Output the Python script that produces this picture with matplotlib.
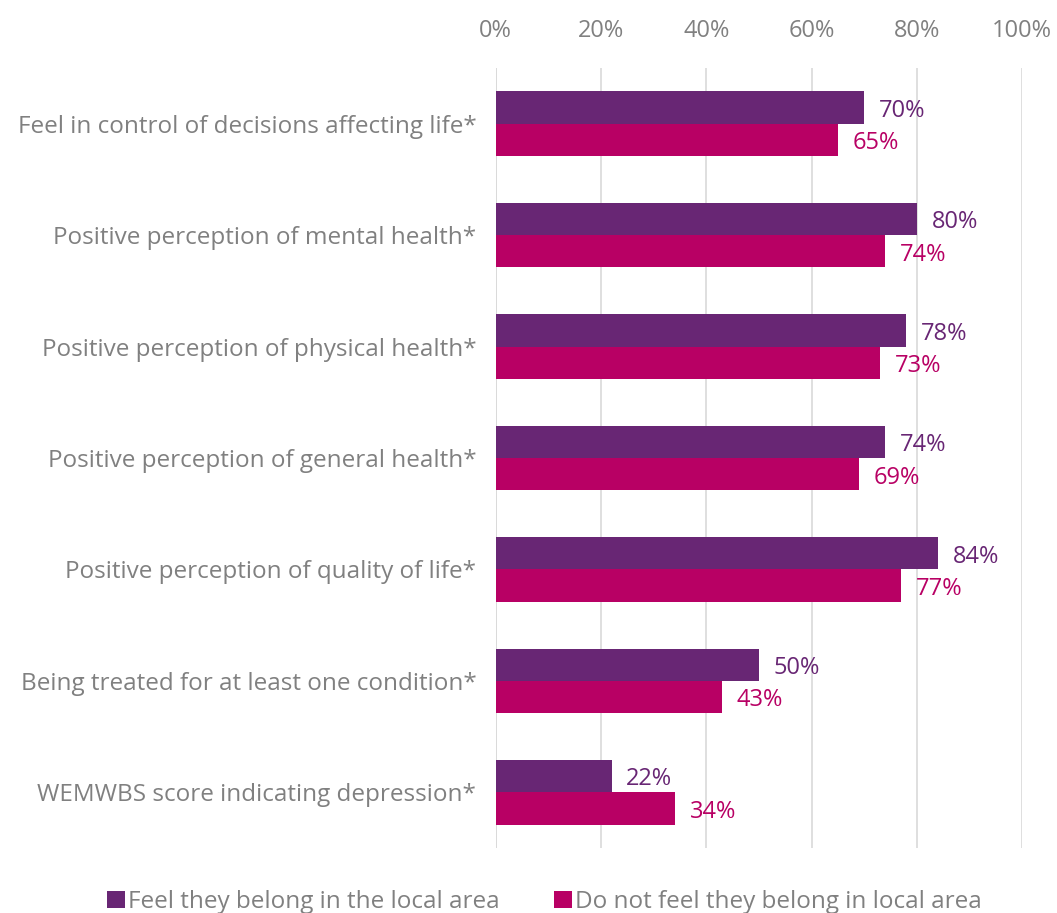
import matplotlib.pyplot as plt
import numpy as np

categories = [
    "Feel in control of decisions affecting life*",
    "Positive perception of mental health*",
    "Positive perception of physical health*",
    "Positive perception of general health*",
    "Positive perception of quality of life*",
    "Being treated for at least one condition*",
    "WEMWBS score indicating depression*",
]
belong = [70, 80, 78, 74, 84, 50, 22]
not_belong = [65, 74, 73, 69, 77, 43, 34]
series_names = ["Feel they belong in the local area", "Do not feel they belong in local area"]
colors = ["#682674", "#B80064"]
grey = "#808080"

plt.rcParams['font.family'] = ['Open Sans', 'DejaVu Sans']

fig = plt.figure(figsize=(10.57, 9.13), dpi=100)
ax = fig.add_axes([0.469, 0.0712, 0.498, 0.8543])

y = np.arange(len(categories))
h = 0.29
b1 = ax.barh(y - h / 2, belong, height=h, color=colors[0], label=series_names[0])
b2 = ax.barh(y + h / 2, not_belong, height=h, color=colors[1], label=series_names[1])

for bars, vals, c in [(b1, belong, colors[0]), (b2, not_belong, colors[1])]:
    for bar, v in zip(bars, vals):
        ax.text(v + 2.8, bar.get_y() + bar.get_height() / 2 + 0.03, f"{v}%",
                color=c, fontsize=17, va="center", ha="left")

ax.set_xlim(0, 100)
ax.set_ylim(len(categories) - 0.5, -0.5)
ax.set_xticks(range(0, 101, 20))
ax.set_xticklabels([f"{t}%" for t in range(0, 101, 20)])
ax.xaxis.tick_top()
ax.tick_params(axis="x", length=0, labelsize=17, colors=grey, pad=18)
ax.set_yticks(y)
ax.set_yticklabels(categories)
ax.tick_params(axis="y", length=0, labelsize=17.5, colors=grey, pad=14)
ax.grid(axis="x", color="#d9d9d9", linewidth=1.2)
ax.set_axisbelow(True)
for s in ax.spines.values():
    s.set_visible(False)
ax.axvline(0, color="#d9d9d9", linewidth=1.2, zorder=0)

leg = fig.legend(handles=[b1, b2], labels=series_names, loc="lower center",
                 bbox_to_anchor=(0.515, -0.025), ncol=2, frameon=False, fontsize=17.5,
                 handlelength=0.75, handleheight=0.75, handletextpad=0.15, columnspacing=2.2)
for t in leg.get_texts():
    t.set_color(grey)

fig.savefig("out.png", dpi=100)
